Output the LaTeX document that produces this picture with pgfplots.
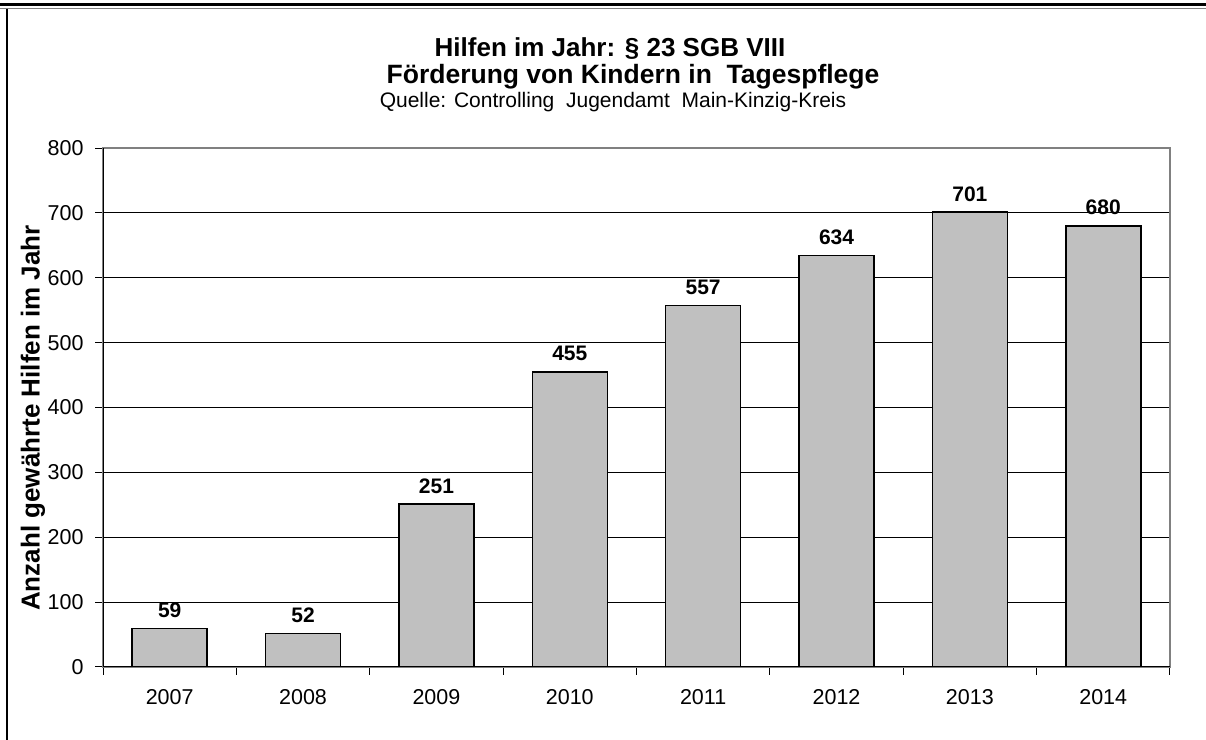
\documentclass[border=0pt]{standalone}
\usepackage{fontspec}
\setmainfont{Liberation Sans}
\usepackage{pgfplots}
\pgfplotsset{compat=1.18}
\definecolor{barfill}{RGB}{192,192,192}
\definecolor{frame}{RGB}{128,128,128}
\begin{document}
\begin{tikzpicture}
\useasboundingbox (0,0) rectangle (1206bp,740bp);
\fill[white] (0,0) rectangle (1206bp,740bp);
\draw[black, line width=3bp] (0,735bp) -- (1206bp,735bp);
\draw[frame, line width=1bp] (0,731.5bp) -- (1206bp,731.5bp);
\draw[black, line width=1.5bp] (7bp,731bp) -- (7bp,0);
\node[inner sep=0pt, font=\fontsize{26bp}{30bp}\selectfont\bfseries] at (610bp,691bp) {Hilfen im Jahr: § 23 SGB VIII};
\node[inner sep=0pt, font=\fontsize{26.5bp}{30bp}\selectfont\bfseries] at (633bp,663.5bp) {Förderung von Kindern in\ \ Tagespflege};
\node[inner sep=0pt, font=\fontsize{21bp}{25bp}\selectfont] at (613bp,638bp) {Quelle: Controlling\ \ Jugendamt\ \ Main-Kinzig-Kreis};
\node[font=\fontsize{26bp}{30bp}\selectfont\bfseries, rotate=90] at (33bp,322bp) {Anzahl gewährte Hilfen im Jahr};
\begin{axis}[
  at={(103bp,73bp)}, anchor=south west,
  scale only axis, width=1067bp, height=519bp,
  xmin=0.5, xmax=8.5, ymin=0, ymax=800,
  xtick={0.5,1.5,2.5,3.5,4.5,5.5,6.5,7.5,8.5},
  xticklabels={2007,2008,2009,2010,2011,2012,2013,2014},
  x tick label as interval,
  ytick={0,100,200,300,400,500,600,700,800},
  xtick pos=bottom, ytick pos=left,
  tick align=outside,
  major tick length=8bp,
  tick style={black, line width=1bp},
  ymajorgrids, grid style={black, line width=1bp},
  axis line style={frame, line width=1.5bp},
  ticklabel style={font=\fontsize{21.5bp}{25bp}\selectfont},
  xticklabel style={yshift=-11bp},
  yticklabel style={xshift=-8bp},
  /pgf/number format/assume math mode=true,
  ybar, bar width=75bp,
  nodes near coords,
  nodes near coords style={font=\fontsize{21bp}{25bp}\selectfont\bfseries, anchor=south, inner sep=0pt, yshift=10bp},
]
\addplot[fill=barfill, draw=black, line width=1.5bp] coordinates {
 (1,59) (2,52) (3,251) (4,455) (5,557) (6,634) (7,701) (8,680)};
\draw[frame, line width=1.5bp] (rel axis cs:0,1) -- (rel axis cs:1,1) -- (rel axis cs:1,0);
\draw[black, line width=1.5bp] (rel axis cs:0,1) -- (rel axis cs:0,0) -- (rel axis cs:1,0);
\end{axis}
\end{tikzpicture}
\end{document}
